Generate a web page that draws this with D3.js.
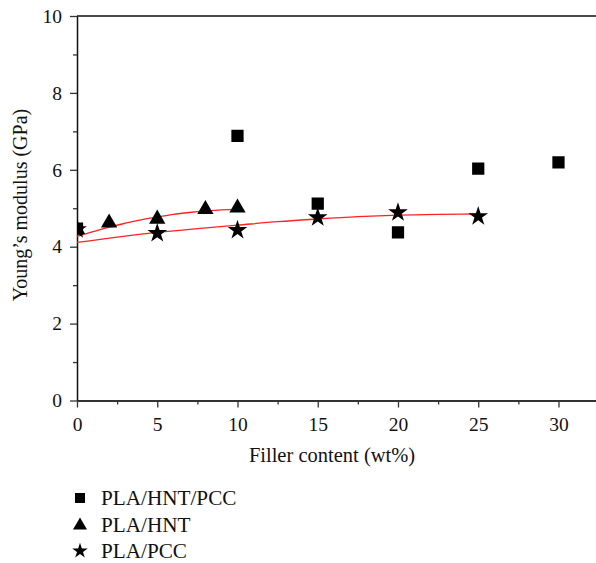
<!DOCTYPE html>
<html>
<head>
<meta charset="utf-8">
<script src="https://cdn.jsdelivr.net/npm/d3@7"></script>
<style>
  html, body { margin: 0; padding: 0; background: #fff; }
  svg { display: block; }
</style>
</head>
<body>
<svg id="chart" width="596" height="563"></svg>
<script>
// Young's modulus of PLA composites versus filler loading
const hntPccX = [0, 10, 15, 20, 25, 30];
const hntPccY = [4.47, 6.88, 5.12, 4.37, 6.03, 6.19];

const hntX = [0, 2, 5, 8, 10];
const hntY = [4.45, 4.62, 4.72, 4.97, 5.01];

const pccX = [0, 5, 10, 15, 20, 25];
const pccY = [4.45, 4.35, 4.43, 4.76, 4.89, 4.79];

// Red trend curves drawn through the series
const hntFitX = [0, 1, 2, 3, 4, 5, 6, 7, 8, 9, 10];
const hntFitY = [4.27, 4.39, 4.51, 4.61, 4.70, 4.77, 4.84, 4.89, 4.93, 4.96, 4.97];
const pccFitX = [0, 2.5, 5, 7.5, 10, 12.5, 15, 17.5, 20, 22.5, 25];
const pccFitY = [4.11, 4.25, 4.37, 4.47, 4.56, 4.65, 4.72, 4.78, 4.82, 4.84, 4.85];

const xTicks = [0, 5, 10, 15, 20, 25, 30];
const xMinor = [2.5, 7.5, 12.5, 17.5, 22.5, 27.5, 32.5];
const yTicks = [0, 2, 4, 6, 8, 10];
const yMinor = [1, 3, 5, 7, 9];

const legendLabels = ["PLA/HNT/PCC", "PLA/HNT", "PLA/PCC"];

const FONT = '"Liberation Serif"';
const svg = d3.select("#chart");
const plotL = 77, plotR = 597, plotT = 16, plotB = 400.5;

const x = d3.scaleLinear().domain([0, 32.4]).range([plotL, plotR]);
const y = d3.scaleLinear().domain([0, 10]).range([plotB, plotT]);

// clip region for the plotted marks
svg.append("defs").append("clipPath").attr("id", "plotClip")
  .append("rect").attr("x", plotL).attr("y", plotT).attr("width", plotR - plotL).attr("height", plotB - plotT);

// top frame line
svg.append("line")
  .attr("x1", plotL).attr("x2", plotR).attr("y1", plotT).attr("y2", plotT)
  .attr("stroke", "#111").attr("stroke-width", 1.5);

// y axis
svg.append("g").attr("transform", `translate(${plotL},0)`)
  .call(d3.axisLeft(y).tickValues(yTicks).tickFormat(d3.format("d")).tickSize(7).tickSizeOuter(0).tickPadding(8));
svg.append("g").attr("transform", `translate(${plotL},0)`)
  .call(d3.axisLeft(y).tickValues(yMinor).tickFormat("").tickSize(4).tickSizeOuter(0))
  .call(g => g.select(".domain").remove());

// x axis
const xAxis = svg.append("g").attr("transform", `translate(0,${plotB})`)
  .call(d3.axisBottom(x).tickValues(xTicks).tickFormat(d3.format("d")).tickSize(7).tickSizeOuter(0).tickPadding(10));
svg.append("g").attr("transform", `translate(0,${plotB})`)
  .call(d3.axisBottom(x).tickValues(xMinor).tickFormat("").tickSize(4).tickSizeOuter(0))
  .call(g => g.select(".domain").remove());

svg.selectAll(".domain").attr("stroke", "#111").attr("stroke-width", 1.5);
xAxis.select(".domain").attr("stroke", "#333").attr("stroke-width", 1.8);
svg.selectAll(".tick line").attr("stroke", "#333").attr("stroke-width", 1.3);
svg.selectAll(".tick text")
  .attr("font-family", null).attr("font-size", null)
  .style("font-family", FONT)
  .style("font-size", "19.5px").attr("fill", "#111");

// axis titles
svg.append("text")
  .attr("x", 332).attr("y", 462)
  .attr("text-anchor", "middle")
  .style("font-family", FONT).style("font-size", "20.5px").attr("fill", "#111")
  .text("Filler content (wt%)");

svg.append("text")
  .attr("transform", `translate(27,205) rotate(-90)`)
  .attr("text-anchor", "middle")
  .style("font-family", FONT).style("font-size", "20px").attr("fill", "#111")
  .text("Young\u2019s modulus (GPa)");

const plot = svg.append("g").attr("clip-path", "url(#plotClip)");

// trend curves
const line = d3.line().curve(d3.curveMonotoneX);
plot.append("path")
  .attr("d", line(hntFitX.map((d, i) => [x(d), y(hntFitY[i])])))
  .attr("fill", "none").attr("stroke", "#f22").attr("stroke-width", 1.3);
plot.append("path")
  .attr("d", line(pccFitX.map((d, i) => [x(d), y(pccFitY[i])])))
  .attr("fill", "none").attr("stroke", "#f22").attr("stroke-width", 1.3);

// markers
const sq = d3.symbol().type(d3.symbolSquare).size(150);
const tri = d3.symbol().type(d3.symbolTriangle).size(115);
const star = d3.symbol().type(d3.symbolStar).size(120);

function drawSeries(xs, ys, sym) {
  plot.selectAll(null).data(xs).enter().append("path")
    .attr("d", sym)
    .attr("transform", (d, i) => `translate(${x(d)},${y(ys[i])})`)
    .attr("fill", "#000");
}
drawSeries(hntPccX, hntPccY, sq);
drawSeries(hntX, hntY, tri);
drawSeries(pccX, pccY, star);

// legend
const legendSyms = [
  d3.symbol().type(d3.symbolSquare).size(100),
  d3.symbol().type(d3.symbolTriangle).size(85),
  d3.symbol().type(d3.symbolStar).size(75)
];
const lg = svg.append("g");
legendLabels.forEach((lab, i) => {
  const base = 505 + i * 26.5;
  lg.append("path").attr("d", legendSyms[i]())
    .attr("transform", `translate(80,${base - 7 + (i === 1 ? 1 : 0)})`).attr("fill", "#000");
  lg.append("text").attr("x", 101).attr("y", base)
    .style("font-family", FONT).style("font-size", "21.2px").attr("fill", "#111")
    .text(lab);
});
</script>
</body>
</html>
